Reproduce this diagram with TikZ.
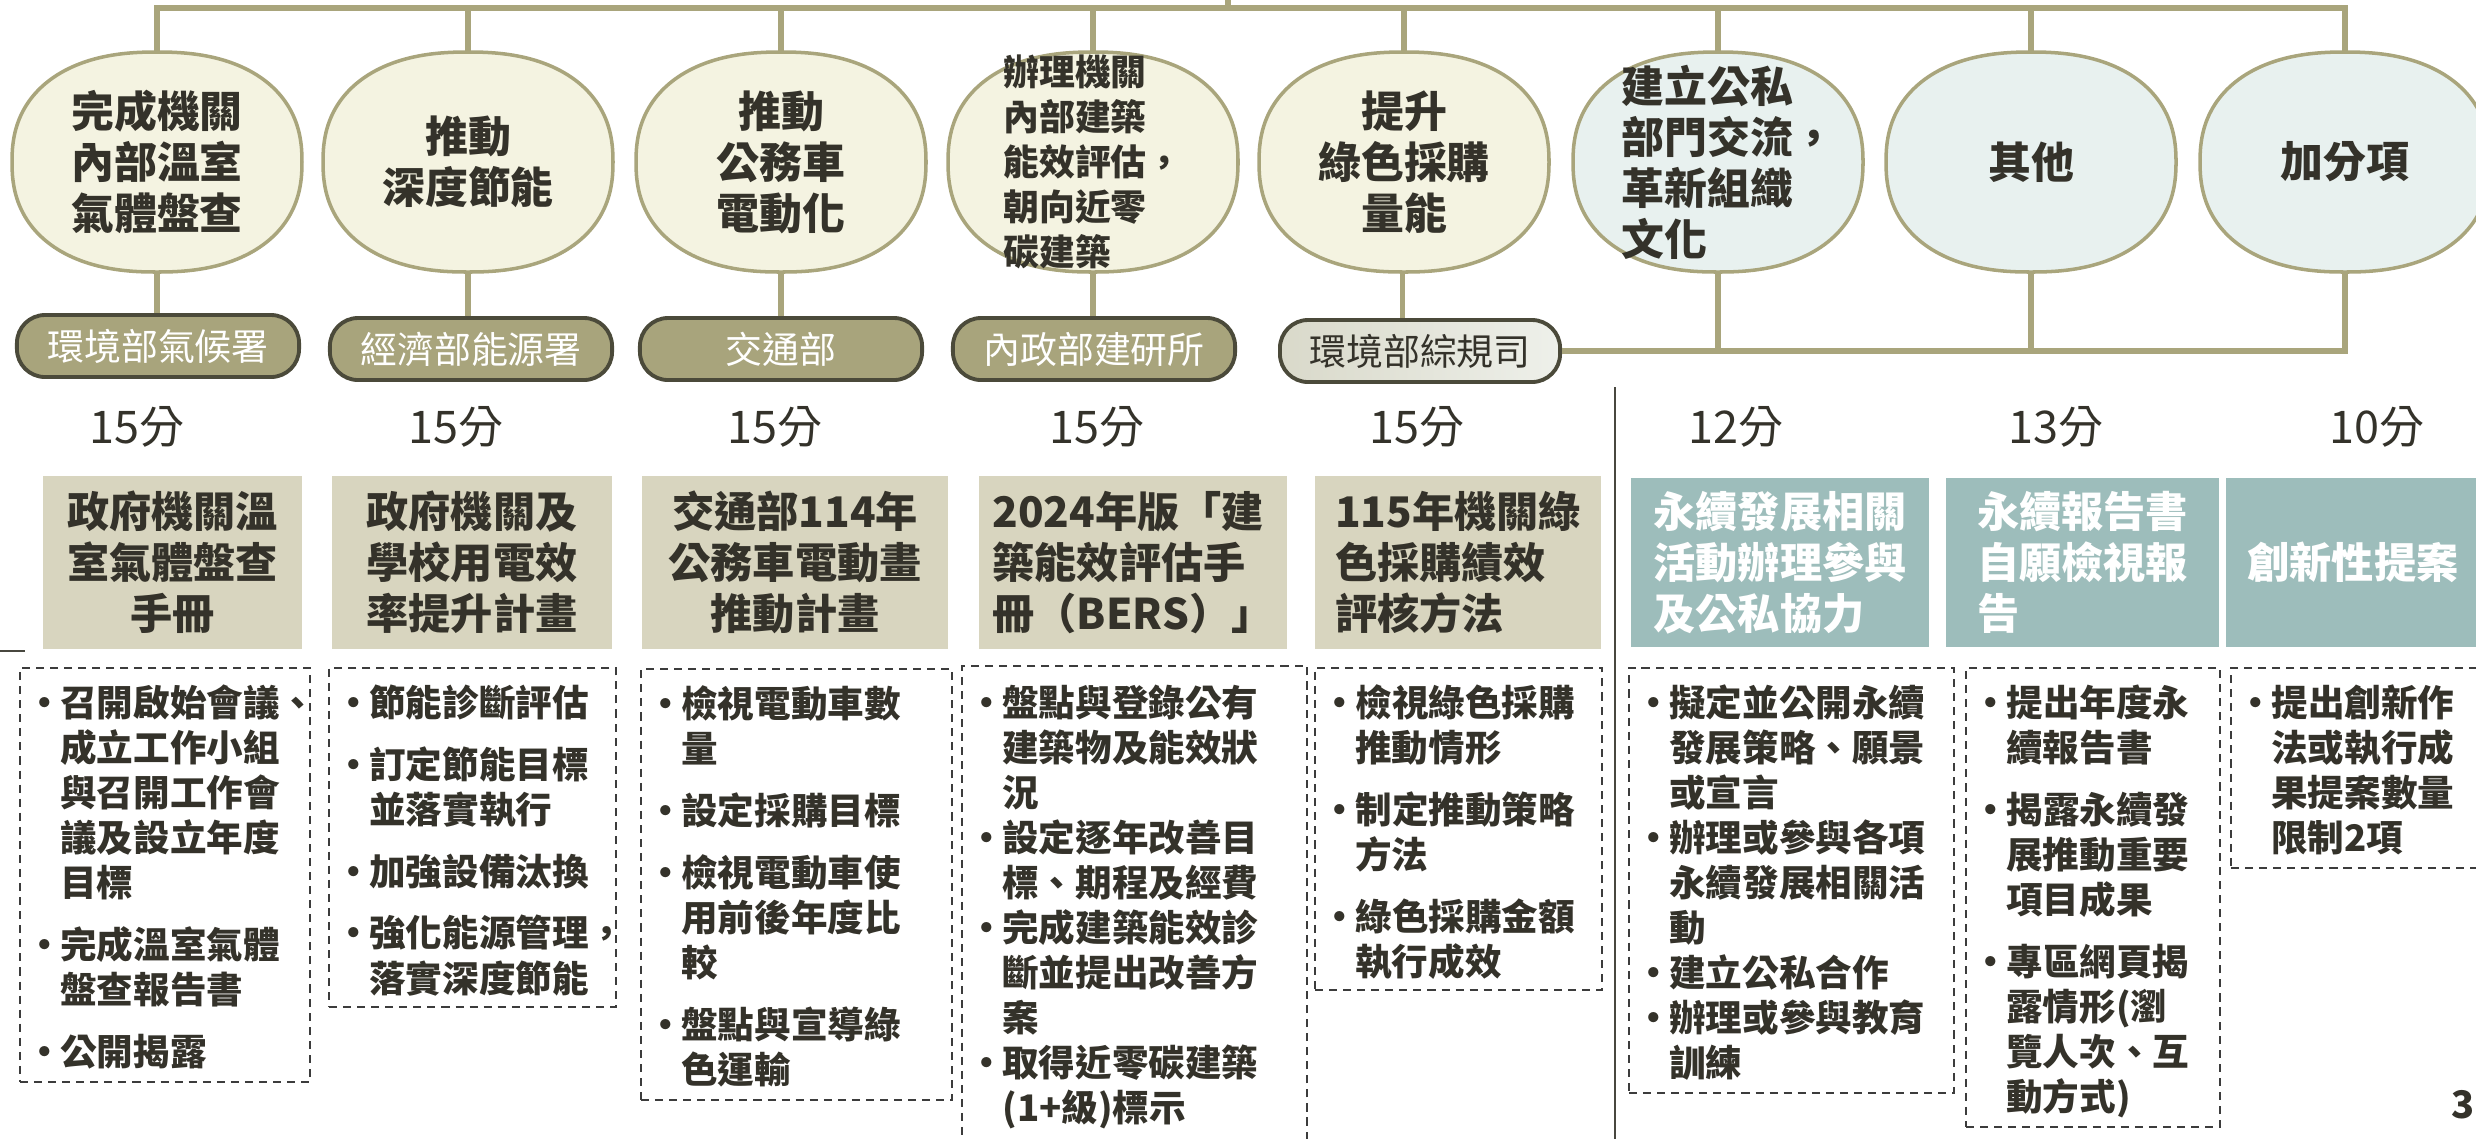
\documentclass[tikz,border=0pt]{standalone}
\usepackage{fontspec}
\setmainfont{Noto Sans CJK TC}
\usetikzlibrary{calc}
\definecolor{cLine}{HTML}{A9A57C}
\definecolor{cCream}{HTML}{F4F3E1}
\definecolor{cMist}{HTML}{E8F1EF}
\definecolor{cPill}{HTML}{A8A47C}
\definecolor{cPillEdge}{HTML}{4B4A3A}
\definecolor{cPillL}{HTML}{D9D9CA}
\definecolor{cPillR}{HTML}{EEF0EA}
\definecolor{cKhaki}{HTML}{D8D5BF}
\definecolor{cTeal}{HTML}{9DBDBB}
\definecolor{cInk}{HTML}{34322A}
\definecolor{cDash}{HTML}{3C3C3C}
\newcommand\bl{\makebox[0.84em][c]{•}}
\newcommand\ind{\makebox[0.84em]{}}
\tikzset{
  pics/blob/.style={code={\path[pic actions] plot[smooth cycle, samples=90, domain=2:358]
      ({145*cos(\x)*abs(cos(\x))^(-0.14)},{110*sin(\x)*abs(sin(\x))^(-0.14)});}},
  blobfill/.style={draw=cLine, line width=1.0pt, fill=#1},
  eanchor/.style={rectangle, minimum width=2.90cm, minimum height=2.2cm, inner sep=0, outer sep=0},
  etext/.style={inner sep=0, text=cInk, font={\bfseries\fontsize{12.2pt}{14.5pt}\selectfont}},
  conn/.style={draw=cLine, line width=1.5pt},
  bus/.style={draw=cLine, line width=1.55pt},
  pill/.style={rectangle, rounded corners=8pt, draw=cPillEdge, line width=1.1pt, fill=cPill,
      text=white, minimum width=2.82cm, minimum height=0.62cm, inner sep=0,
      font={\fontsize{10.5pt}{12pt}\selectfont}},
  pilllight/.style={pill, left color=cPillL, right color=cPillR, text=cInk},
  score/.style={inner sep=0, text=cInk, font={\fontsize{12.8pt}{15pt}\selectfont}},
  tbox/.style={rectangle, fill=cKhaki, inner sep=0, text=cInk,
      font={\bfseries\fontsize{12pt}{14.5pt}\selectfont}},
  tteal/.style={tbox, fill=cTeal, text=white},
  dbox/.style={rectangle, draw=cDash, line width=0.55pt, dash pattern=on 2.3pt off 1.7pt, inner sep=0},
  ltext/.style={inner sep=0, text=cInk, align=left, anchor=north west,
      font={\bfseries\fontsize{10.4pt}{12.8pt}\selectfont}},
  sepline/.style={draw=cInk!90, line width=0.55pt},
}
\begin{document}
\begin{tikzpicture}[x=0.01cm, y=-0.01cm]
\useasboundingbox (0,0) rectangle (2476,1138);
\clip (0,0) rectangle (2476,1138);

\coordinate (tl) at (156,8);
\coordinate (tr) at (2345,8);
\coordinate (up) at (1228,0);

% goal shapes
\pic[blobfill=cCream] at (157,162) {blob};
\pic[blobfill=cCream] at (468,162) {blob};
\pic[blobfill=cCream] at (781,162) {blob};
\pic[blobfill=cCream] at (1093,162) {blob};
\pic[blobfill=cCream] at (1404,162) {blob};
\pic[blobfill=cMist] at (1718,162) {blob};
\pic[blobfill=cMist] at (2031,162) {blob};
\pic[blobfill=cMist] at (2345,162) {blob};
\node[eanchor] (e1) at (157,162) {};
\node[eanchor] (e2) at (468,162) {};
\node[eanchor] (e3) at (781,162) {};
\node[eanchor] (e4) at (1093,162) {};
\node[eanchor] (e5) at (1404,162) {};
\node[eanchor] (e6) at (1718,162) {};
\node[eanchor] (e7) at (2031,162) {};
\node[eanchor] (e8) at (2345,162) {};
\node[etext, align=center] (e1t) at (e1) {完成機關\\內部溫室\\氣體盤查};
\node[etext, align=center] (e2t) at (e2) {推動\\深度節能};
\node[etext, align=center] (e3t) at (e3) {推動\\公務車\\電動化};
\node[etext, align=left, font={\bfseries\fontsize{10.2pt}{12.8pt}\selectfont}] (e4t) at (e4) {辦理機關\\內部建築\\能效評估，\\朝向近零\\碳建築};
\node[etext, align=center] (e5t) at (e5) {提升\\綠色採購\\量能};
\node[etext, align=left] (e6t) at ([xshift=3pt]e6) {建立公私\\部門交流，\\革新組織\\文化};
\node[etext, align=center] (e7t) at (e7) {其他};
\node[etext, align=center] (e8t) at (e8) {加分項};

% agencies
\node[pill] (p1) at (158,346) {環境部氣候署};
\node[pill] (p2) at (471,349) {經濟部能源署};
\node[pill] (p3) at (781,349) {交通部};
\node[pill] (p4) at (1094,349) {內政部建研所};
\node[pilllight, minimum width=2.8cm] (p5) at (1420,351) {環境部綜規司};

% connectors
\draw[bus] (e1.north) -- (e1.north |- tl) -- (tr) -- (e8.north);
\draw[bus] (up) -- (up |- tl);
\draw[conn] (e2.north) -- (e2.north |- tl);
\draw[conn] (e3.north) -- (e3.north |- tl);
\draw[conn] (e4.north) -- (e4.north |- tl);
\draw[conn] (e5.north) -- (e5.north |- tl);
\draw[conn] (e6.north) -- (e6.north |- tl);
\draw[conn] (e7.north) -- (e7.north |- tl);
\draw[conn] (e1.south) -- (e1.south |- p1.north);
\draw[conn] (e2.south) -- (e2.south |- p2.north);
\draw[conn] (e3.south) -- (e3.south |- p3.north);
\draw[conn] (e4.south) -- (e4.south |- p4.north);
\draw[conn] ([xshift=-0.5pt]e5.south) -- ([xshift=-0.5pt]e5.south |- p5.north);
\draw[bus] (p5.east) -| (e8.south);
\draw[conn] (e6.south) -- (e6.south |- p5.east);
\draw[conn] (e7.south) -- (e7.south |- p5.east);

% scores
\node[score] (s1) at (137,427) {15分};
\node[score] (s2) at (456,427) {15分};
\node[score] (s3) at (775,427) {15分};
\node[score] (s4) at (1097,427) {15分};
\node[score] (s5) at (1417,427) {15分};
\node[score] (s6) at (1736,427) {12分};
\node[score] (s7) at (2056,427) {13分};
\node[score] (s8) at (2377,427) {10分};

% separator
\coordinate (sepT) at (1615,387);
\coordinate (sepB) at (1615,1140);
\draw[sepline] (sepT) -- (sepB);
\coordinate (lf1) at (0,651);
\coordinate (lf2) at (25,651);
\draw[sepline] (lf1) -- (lf2);

% title boxes
\node[tbox, align=center, minimum width=2.59cm, minimum height=1.73cm] (t1) at (172.5,562.5) {政府機關溫\\室氣體盤查\\手冊};
\node[tbox, align=center, minimum width=2.80cm, minimum height=1.73cm] (t2) at (472,562.5) {政府機關及\\學校用電效\\率提升計畫};
\node[tbox, align=center, minimum width=3.06cm, minimum height=1.73cm] (t3) at (795,562.5) {交通部114年\\公務車電動畫\\推動計畫};
\node[tbox, align=left, minimum width=3.08cm, minimum height=1.73cm] (t4) at (1133,562.5) {2024年版「建\\築能效評估手\\冊（BERS）」};
\node[tbox, align=left, minimum width=2.86cm, minimum height=1.73cm] (t5) at (1458,562.5) {115年機關綠\\色採購績效\\評核方法};
\node[tteal, align=left, minimum width=2.98cm, minimum height=1.69cm] (t6) at (1780,562.5) {永續發展相關\\活動辦理參與\\及公私協力};
\node[tteal, align=left, minimum width=2.73cm, minimum height=1.69cm] (t7) at (2082.5,562.5) {永續報告書\\自願檢視報\\告};
\node[tteal, align=center, minimum width=2.54cm, minimum height=1.69cm] (t8) at (2353,562.5) {創新性提案};

% dashed boxes
\node[dbox, minimum width=2.90cm, minimum height=4.14cm] (dA) at (165,875) {};
\node[dbox, minimum width=2.87cm, minimum height=3.39cm] (dB) at (472.5,837.5) {};
\node[dbox, minimum width=3.11cm, minimum height=4.31cm] (dC) at (796.5,884.5) {};
\node[dbox, minimum width=3.45cm, minimum height=4.94cm] (dD) at (1134.5,913) {};
\node[dbox, minimum width=2.87cm, minimum height=3.22cm] (dE) at (1458.5,829) {};
\node[dbox, minimum width=3.25cm, minimum height=4.25cm] (dF) at (1791.5,880.5) {};
\node[dbox, minimum width=2.54cm, minimum height=4.59cm] (dG) at (2093,897.5) {};
\node[dbox, minimum width=2.69cm, minimum height=2.00cm] (dH) at (2365.5,768) {};

% bullet lists
\node[ltext] (lA) at ($(dA.north west)+(10,17)$) {\bl 召開啟始會議、\\\ind 成立工作小組\\\ind 與召開工作會\\\ind 議及設立年度\\\ind 目標\\[4.8pt]\bl 完成溫室氣體\\\ind 盤查報告書\\[4.8pt]\bl 公開揭露};
\node[ltext] (lB) at ($(dB.north west)+(10,17)$) {\bl 節能診斷評估\\[4.8pt]\bl 訂定節能目標\\\ind 並落實執行\\[4.8pt]\bl 加強設備汰換\\[4.8pt]\bl 強化能源管理，\\\ind 落實深度節能};
\node[ltext] (lC) at ($(dC.north west)+(10,17)$) {\bl 檢視電動車數\\\ind 量\\[4.8pt]\bl 設定採購目標\\[4.8pt]\bl 檢視電動車使\\\ind 用前後年度比\\\ind 較\\[4.8pt]\bl 盤點與宣導綠\\\ind 色運輸};
\node[ltext] (lD) at ($(dD.north west)+(10,19)$) {\bl 盤點與登錄公有\\\ind 建築物及能效狀\\\ind 況\\\bl 設定逐年改善目\\\ind 標、期程及經費\\\bl 完成建築能效診\\\ind 斷並提出改善方\\\ind 案\\\bl 取得近零碳建築\\\ind (1+級)標示};
\node[ltext] (lE) at ($(dE.north west)+(10,17)$) {\bl 檢視綠色採購\\\ind 推動情形\\[4.8pt]\bl 制定推動策略\\\ind 方法\\[4.8pt]\bl 綠色採購金額\\\ind 執行成效};
\node[ltext] (lF) at ($(dF.north west)+(10,17)$) {\bl 擬定並公開永續\\\ind 發展策略、願景\\\ind 或宣言\\\bl 辦理或參與各項\\\ind 永續發展相關活\\\ind 動\\\bl 建立公私合作\\\bl 辦理或參與教育\\\ind 訓練};
\node[ltext] (lG) at ($(dG.north west)+(10,17)$) {\bl 提出年度永\\\ind 續報告書\\[4.8pt]\bl 揭露永續發\\\ind 展推動重要\\\ind 項目成果\\[4.8pt]\bl 專區網頁揭\\\ind 露情形(瀏\\\ind 覽人次、互\\\ind 動方式)};
\node[ltext] (lH) at ($(dH.north west)+(10,17)$) {\bl 提出創新作\\\ind 法或執行成\\\ind 果提案數量\\\ind 限制2項};

% page number
\node[inner sep=0, text=cInk, font={\bfseries\fontsize{10.8pt}{12pt}\selectfont}] (pg) at (2463,1105) {3};
\end{tikzpicture}
\end{document}
